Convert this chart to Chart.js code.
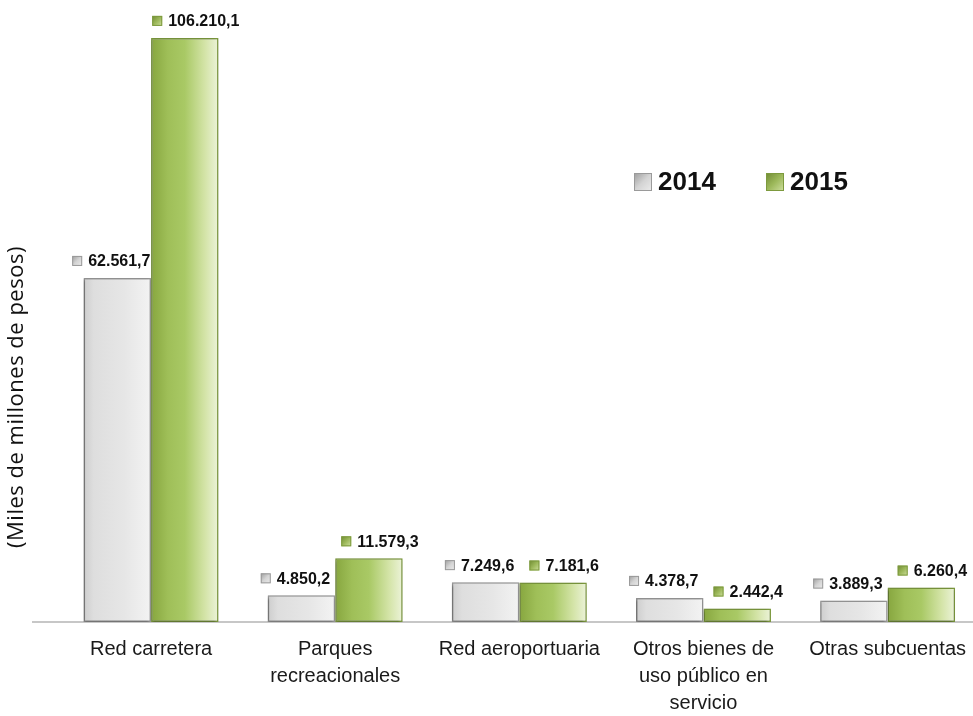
<!DOCTYPE html>
<html>
<head>
<meta charset="utf-8">
<script src="https://cdn.jsdelivr.net/npm/chart.js@4"></script>
<style>
    html, body { margin: 0; padding: 0; background: #fff; overflow: hidden; }
</style>
</head>
<body>
<canvas id="chart_main" width="980" height="716"></canvas>
<script>
// categories (multi-line tick labels)
const categories = [
    ['Red carretera'],
    ['Parques', 'recreacionales'],
    ['Red aeroportuaria'],
    ['Otros bienes de', 'uso público en', 'servicio'],
    ['Otras subcuentas']
];
const seriesNames = ['2014', '2015'];
const values2014 = [62561.7, 4850.2, 7249.6, 4378.7, 3889.3];
const values2015 = [106210.1, 11579.3, 7181.6, 2442.4, 6260.4];
const yTitle = '(Miles de millones de pesos)';

const fmt = (v) => {
    const parts = v.toFixed(1).split('.');
    return parts[0].replace(/\B(?=(\d{3})+(?!\d))/g, '.') + ',' + parts[1];
};

// colour stops for the two series
const styles = [
    {
        stops: [[0, '#cdcdcd'], [0.15, '#dedede'], [0.6, '#e6e6e6'], [1, '#f3f3f3']],
        icon: [[0, '#9c9c9c'], [0.5, '#d4d4d4'], [1, '#ececec']],
        border: '#9a9a9a'
    },
    {
        stops: [[0, '#87a63f'], [0.25, '#9fbf58'], [0.5, '#a9c965'], [0.8, '#d4e4a8'], [1, '#ecf3d9']],
        icon: [[0, '#6f8a33'], [0.5, '#9cb85a'], [1, '#cfe0a0']],
        border: '#7d9a3e'
    }
];
const CAT_PCT = 0.733;

// horizontal gradient for each bar, computed from the x scale
const barFill = (c) => {
    const chart = c.chart;
    const xs = chart.scales.x;
    if (!xs || !chart.chartArea) return styles[c.datasetIndex].stops[1][1];
    const center = xs.getPixelForValue(c.dataIndex);
    const w = (xs.width / categories.length) * CAT_PCT / 2;
    const x0 = c.datasetIndex === 0 ? center - w : center;
    const g = chart.ctx.createLinearGradient(x0, 0, x0 + w, 0);
    styles[c.datasetIndex].stops.forEach(s => g.addColorStop(s[0], s[1]));
    return g;
};

const drawIcon = (ctx, x, y, size, ds) => {
    const g = ctx.createLinearGradient(x, y, x + size, y + size);
    styles[ds].icon.forEach(s => g.addColorStop(s[0], s[1]));
    ctx.fillStyle = g;
    ctx.fillRect(x, y, size, size);
    ctx.strokeStyle = styles[ds].border;
    ctx.lineWidth = 1;
    ctx.strokeRect(x + 0.5, y + 0.5, size - 1, size - 1);
};

const decorPlugin = {
    id: 'decor',
    beforeDatasetsDraw(chart) {
        const ctx = chart.ctx;
        const area = chart.chartArea;
        const y0 = chart.scales.y.getPixelForValue(0);
        ctx.save();
        ctx.strokeStyle = '#b4b4b4';
        ctx.lineWidth = 1.5;
        ctx.beginPath();
        ctx.moveTo(area.left - 27, y0);
        ctx.lineTo(chart.width, y0);
        ctx.stroke();
        ctx.restore();
        // soft shadow under bars
        ctx.save();
        ctx.shadowColor = 'rgba(0,0,0,0.4)';
        ctx.shadowBlur = 3;
        ctx.shadowOffsetX = -1;
        ctx.shadowOffsetY = 1;
    },
    afterDatasetsDraw(chart) {
        const ctx = chart.ctx;
        ctx.restore();

        // value labels with little key squares
        ctx.save();
        ctx.font = 'bold 16px "Liberation Sans", Arial, sans-serif';
        ctx.textBaseline = 'middle';
        ctx.textAlign = 'left';
        chart.data.datasets.forEach((ds, di) => {
            const meta = chart.getDatasetMeta(di);
            meta.data.forEach((bar, i) => {
                const txt = fmt(ds.data[i]);
                const tw = ctx.measureText(txt).width;
                const total = 10 + 6 + tw;
                const cx = bar.x + (di === 0 ? -6 : 11);
                const cy = bar.y - 16;
                const left = cx - total / 2;
                drawIcon(ctx, left, cy - 6, 10, di);
                ctx.fillStyle = '#111';
                ctx.fillText(txt, left + 16, cy);
            });
        });
        ctx.restore();

        // legend
        ctx.save();
        const area = chart.chartArea;
        ctx.font = 'bold 26px "Liberation Sans", Arial, sans-serif';
        ctx.textBaseline = 'middle';
        ctx.textAlign = 'left';
        let lx = area.left + 575;
        const ly = 182;
        seriesNames.forEach((name, di) => {
            drawIcon(ctx, lx, ly - 9, 18, di);
            ctx.fillStyle = '#111';
            ctx.fillText(name, lx + 24, ly + 1);
            lx += 132;
        });
        ctx.restore();

        // y axis title
        ctx.save();
        ctx.translate(17, 397);
        ctx.rotate(-Math.PI / 2);
        ctx.font = '22px "Open Sans", sans-serif';
        ctx.letterSpacing = '0.5px';
        ctx.fillStyle = '#111';
        ctx.textAlign = 'center';
        ctx.textBaseline = 'middle';
        ctx.fillText(yTitle, 0, 0);
        ctx.restore();
    }
};

const ctx = document.getElementById('chart_main').getContext('2d');
const chart = new Chart(ctx, {
    type: 'bar',
    data: {
        labels: categories,
        datasets: [
            {
                label: seriesNames[0],
                data: values2014,
                backgroundColor: barFill,
                borderColor: styles[0].border,
                borderWidth: 1.5,
                borderSkipped: false
            },
            {
                label: seriesNames[1],
                data: values2015,
                backgroundColor: barFill,
                borderColor: styles[1].border,
                borderWidth: 1.5,
                borderSkipped: false
            }
        ]
    },
    options: {
        responsive: false,
        animation: false,
        events: [],
        layout: { padding: { left: 59, right: 0, top: 0, bottom: 0 } },
        datasets: {
            bar: { categoryPercentage: CAT_PCT, barPercentage: 1 }
        },
        plugins: {
            legend: { display: false },
            tooltip: { enabled: false }
        },
        scales: {
            x: {
                grid: { display: false, drawTicks: false },
                border: { display: false },
                ticks: {
                    color: '#1a1a1a',
                    padding: 14,
                    maxRotation: 0,
                    autoSkip: false,
                    font: { family: '"Liberation Sans", Arial, sans-serif', size: 20, lineHeight: 1.35 }
                },
                afterFit: (scale) => { scale.height = 94; }
            },
            y: {
                display: false,
                min: 0,
                max: 113100
            }
        }
    },
    plugins: [decorPlugin]
});
</script>
</body>
</html>
